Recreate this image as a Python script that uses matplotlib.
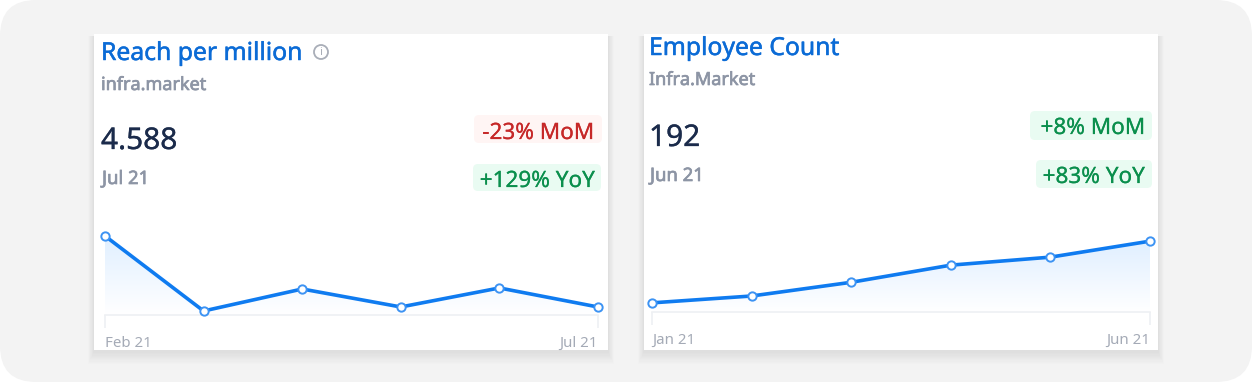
import numpy as np
import matplotlib
matplotlib.use('Agg')
import matplotlib.pyplot as plt
import matplotlib.patheffects as pe
from matplotlib.patches import FancyBboxPatch, Rectangle, Circle, PathPatch
from matplotlib.path import Path

plt.rcParams['font.family'] = ['Noto Sans', 'DejaVu Sans']

# dati
months_reach = ['Feb 21', 'Mar 21', 'Apr 21', 'May 21', 'Jun 21', 'Jul 21']
reach = [45.3, 2.3, 14.9, 4.6, 15.5, 4.588]
months_emp = ['Jan 21', 'Feb 21', 'Mar 21', 'Apr 21', 'May 21', 'Jun 21']
employees = [138, 144, 156, 171, 178, 192]

W, H = 1252, 382
BLUE = '#0f7bf0'
TITLE = '#0b6bd6'
GREY = '#8d95a5'
DARK = '#1b2b4b'
RED = '#c62828'
GREEN = '#0b8f4d'
REDBG = '#fff5f4'
GREENBG = '#e9fbf2'

fig = plt.figure(figsize=(W / 100, H / 100), dpi=100, facecolor='white')
bg = fig.add_axes([0, 0, 1, 1])
bg.set_xlim(0, W)
bg.set_ylim(H, 0)
bg.axis('off')
bg.add_patch(FancyBboxPatch((0, 0), W, H, boxstyle='round,pad=0,rounding_size=36', fc='#f3f3f3', ec='none'))


def fat(col, w):
    # grassetto simulato con un contorno sottile
    return [pe.withStroke(linewidth=w, foreground=col)]


def badge(x0, x1, y0, y1, color, text, tx, ty, col):
    bg.add_patch(FancyBboxPatch((x0, y0), x1 - x0, y1 - y0, boxstyle='round,pad=0,rounding_size=5', fc=color, ec='none', zorder=3))
    bg.text(tx, ty, text, color=col, fontsize=16.2, ha='right', va='baseline', zorder=4, path_effects=fat(col, 0.15))


def card(x0, x1, title, tx, ty, sub, sy, value, vy, date, dy):
    # ombra a strati, piu' marcata in basso
    for i in range(10, 0, -1):
        bg.add_patch(Rectangle((x0 - i * 0.6, 34 + 2), x1 - x0 + 1.2 * i, 316 + i * 1.2, fc='#000000', alpha=0.006, ec='none', zorder=1))
    bg.add_patch(Rectangle((x0, 34), x1 - x0, 316, fc='white', ec='none', zorder=2))
    bg.text(tx, ty, title, color=TITLE, fontsize=17.8, va='baseline', zorder=4, path_effects=fat(TITLE, 0.35))
    bg.text(tx, sy, sub, color=GREY, fontsize=13, va='baseline', zorder=4, path_effects=fat(GREY, 0.5))
    bg.text(tx, vy, value, color=DARK, fontsize=21.5, va='baseline', zorder=4, path_effects=fat(DARK, 0.2))
    bg.text(tx + 1, dy, date, color=GREY, fontsize=13.3, va='baseline', zorder=4, path_effects=fat(GREY, 0.5))


def chart(xl, xr, base, top, vals, ylim, labels, pad):
    # axes in pixel: la base coincide con la linea dell'asse
    ax = fig.add_axes([xl / W, 1 - base / H, (xr - xl) / W, (base - top) / H], zorder=5)
    ax.patch.set_alpha(0)
    x = np.arange(len(vals))
    ax.set_xlim(0, len(vals) - 1)
    ax.set_ylim(*ylim)
    for s in ['top', 'left', 'right']:
        ax.spines[s].set_visible(False)
    ax.spines['bottom'].set_color('#eef0f3')
    ax.spines['bottom'].set_linewidth(1.2)
    ax.set_yticks([])
    ax.set_xticks([0, len(vals) - 1])
    ax.set_xticklabels([labels[0], labels[-1]], fontsize=10.8, color='#a4aab6')
    ax.get_xticklabels()[0].set_ha('left')
    ax.get_xticklabels()[1].set_ha('right')
    ax.tick_params(axis='x', length=9, width=1.2, color='#eef0f3', pad=pad)
    # sfumatura sotto la linea
    grad = np.linspace(0, 1, 100).reshape(-1, 1)
    cmap = matplotlib.colors.LinearSegmentedColormap.from_list('g', ['#ffffff', '#e0efff'])
    vmax = max(vals)
    im = ax.imshow(grad, extent=[0, len(vals) - 1, ylim[0], vmax], origin='lower', aspect='auto', cmap=cmap, zorder=1)
    verts = [(0, ylim[0])] + list(zip(x, vals)) + [(len(vals) - 1, ylim[0]), (0, ylim[0])]
    codes = [Path.MOVETO] + [Path.LINETO] * (len(verts) - 2) + [Path.CLOSEPOLY]
    poly = PathPatch(Path(verts, codes), transform=ax.transData, fc='none', ec='none')
    ax.add_patch(poly)
    im.set_clip_path(poly)
    ax.set_xlim(0, len(vals) - 1)
    ax.set_ylim(*ylim)
    ax.plot(x, vals, color=BLUE, lw=2.6, zorder=3, clip_on=False, marker='o', ms=6, mfc='white', mec='#3d93f3', mew=1.4)


card(94, 608, 'Reach per million', 101, 60, 'infra.market', 90, '4.588', 149, 'Jul 21', 184)
card(644, 1158, 'Employee Count', 649, 55, 'Infra.Market', 85, '192', 146, 'Jun 21', 181)
# icona info
bg.add_patch(Circle((321, 52), 7, fc='none', ec='#a9aeb8', lw=1.3, zorder=4))
bg.text(321, 52.5, 'i', color='#a9aeb8', fontsize=8, ha='center', va='center', zorder=4)

badge(474, 602, 115, 143, REDBG, '-23% MoM', 594, 139, RED)
badge(473, 601, 164, 191, GREENBG, '+129% YoY', 595, 187, GREEN)
badge(1030, 1152, 111, 140, GREENBG, '+8% MoM', 1145, 134, GREEN)
badge(1036, 1152, 160, 188, GREENBG, '+83% YoY', 1145, 183, GREEN)

chart(105, 598, 315, 215, reach, (0, 57.3), months_reach, 6)
chart(652, 1150, 312, 212, employees, (130, 217.5), months_emp, 6)

fig.savefig('out.png', dpi=100)
